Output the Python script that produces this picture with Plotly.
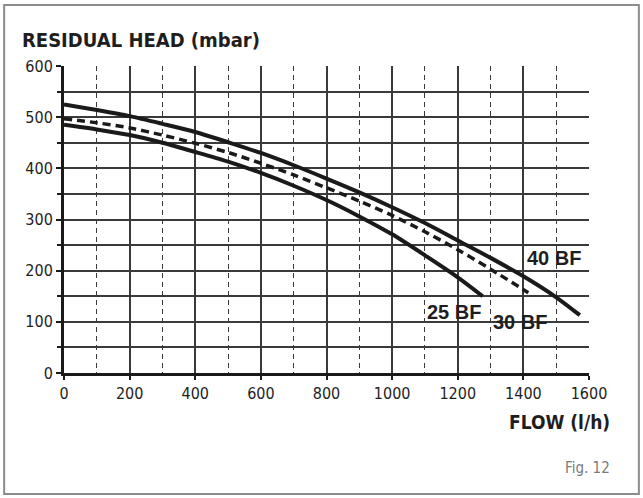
import plotly.graph_objects as go

# ---- data ----
flow_25 = [0, 100, 200, 300, 400, 500, 600, 700, 800, 900, 1000, 1100, 1200, 1276]
head_25 = [485, 476, 465, 450, 432, 413, 391, 366, 338, 306, 271, 230, 187, 150]

flow_30 = [0, 100, 200, 300, 400, 500, 600, 700, 800, 900, 1000, 1100, 1200, 1300, 1415]
head_30 = [497, 489, 479, 465, 449, 431, 410, 387, 362, 336, 308, 276, 241, 203, 157]

flow_40 = [0, 100, 200, 300, 400, 500, 600, 700, 800, 900, 1000, 1100, 1200, 1300, 1400, 1500, 1572]
head_40 = [525, 514, 502, 487, 471, 451, 430, 406, 380, 353, 324, 293, 259, 225, 189, 148, 113]

series_names = ["25 BF", "30 BF", "40 BF"]
label_x = [1188, 1389, 1494]
label_y = [120, 100, 225]

x_ticks = [0, 200, 400, 600, 800, 1000, 1200, 1400, 1600]
y_ticks = [0, 100, 200, 300, 400, 500, 600]

TXT = "#1e1e1e"
GRID = "#3a3a3a"
COND = "DejaVu Sans Condensed, Liberation Sans Narrow, Arial Narrow, sans-serif"

fig = go.Figure()
fig.add_trace(go.Scatter(x=flow_25, y=head_25, mode="lines", name=series_names[0],
                         line=dict(color="#1a1a1a", width=4, shape="spline", smoothing=0.8)))
fig.add_trace(go.Scatter(x=flow_30, y=head_30, mode="lines", name=series_names[1],
                         line=dict(color="#1a1a1a", width=3.5, dash="8px,5px", shape="spline", smoothing=0.8)))
fig.add_trace(go.Scatter(x=flow_40, y=head_40, mode="lines", name=series_names[2],
                         line=dict(color="#1a1a1a", width=4, shape="spline", smoothing=0.8)))

for name, lx, ly in zip(series_names, label_x, label_y):
    fig.add_annotation(x=lx, y=ly, text="<b>%s</b>" % name, showarrow=False,
                       xanchor="center", yanchor="middle",
                       font=dict(family="Liberation Sans, Arial, sans-serif", size=20, color=TXT))

fig.update_layout(
    width=643, height=498,
    margin=dict(l=64, r=54, t=66, b=125),
    paper_bgcolor="white", plot_bgcolor="white",
    showlegend=False,
    font=dict(family=COND, color=TXT),
)

fig.update_xaxes(
    range=[0, 1600], tickvals=x_ticks, ticktext=[str(v) for v in x_ticks],
    showgrid=True, gridcolor=GRID, gridwidth=1.5,
    minor=dict(dtick=100, tick0=0, showgrid=True, gridcolor=GRID, gridwidth=1.2, griddash="5px,4px"),
    showline=True, linecolor="#1a1a1a", linewidth=3,
    ticks="outside", ticklen=4, tickwidth=1.5, tickcolor="#1a1a1a",
    tickfont=dict(size=16, color=TXT, family=COND),
    zeroline=False,
)
fig.update_yaxes(
    range=[0, 600], tickvals=y_ticks, ticktext=[str(v) for v in y_ticks],
    showgrid=True, gridcolor=GRID, gridwidth=1.5,
    minor=dict(dtick=50, tick0=0, showgrid=True, gridcolor=GRID, gridwidth=1.5,
               ticks="outside", ticklen=4, tickcolor="#1a1a1a", tickwidth=1.5),
    showline=True, linecolor="#1a1a1a", linewidth=3,
    ticks="outside", ticklen=5, tickwidth=1.5, tickcolor="#1a1a1a",
    tickfont=dict(size=16, color=TXT, family=COND),
    zeroline=False,
)

# outer frame of the figure
fig.add_shape(type="rect", xref="paper", yref="paper",
              x0=-0.114, x1=1.095, y0=-0.394, y1=1.199,
              line=dict(color="#8c8c8c", width=2), fillcolor="rgba(0,0,0,0)", layer="below")

fig.add_annotation(xref="paper", yref="paper", x=-0.084, y=1.085,
                   text="<b>RESIDUAL HEAD (mbar)</b>", showarrow=False,
                   xanchor="left", yanchor="middle",
                   font=dict(family=COND, size=20, color=TXT))
fig.add_annotation(xref="paper", yref="paper", x=1.044, y=-0.16,
                   text="<b>FLOW (l/h)</b>", showarrow=False,
                   xanchor="right", yanchor="middle",
                   font=dict(family=COND, size=19, color=TXT))
fig.add_annotation(xref="paper", yref="paper", x=1.044, y=-0.309,
                   text="Fig. 12", showarrow=False,
                   xanchor="right", yanchor="middle",
                   font=dict(family=COND, size=15, color="#7a7a7a"))

fig.write_html("out.html")
